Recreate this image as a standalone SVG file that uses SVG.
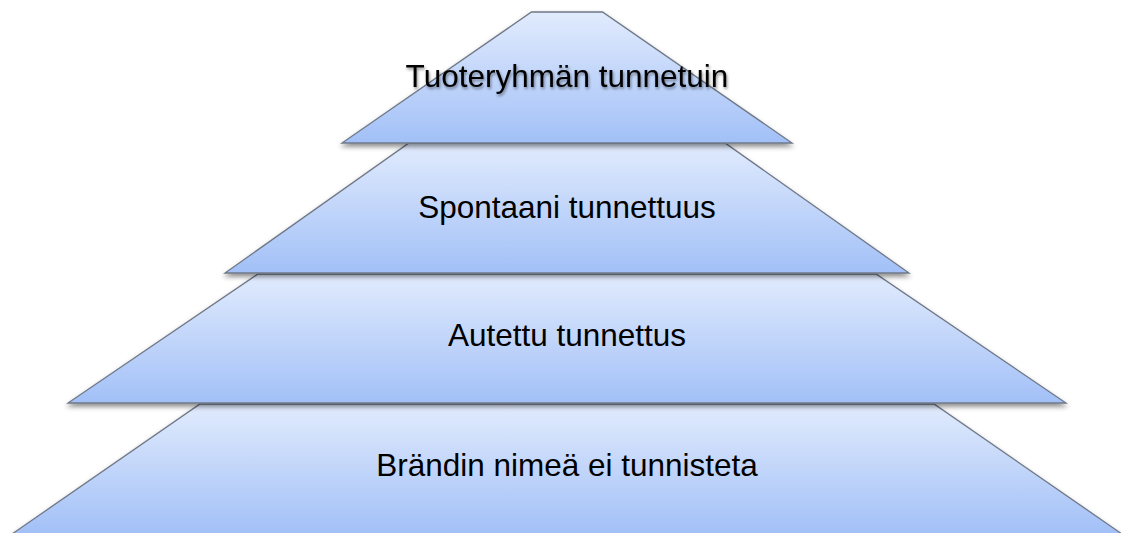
<svg xmlns="http://www.w3.org/2000/svg" width="1121" height="533" viewBox="0 0 1121 533">
<defs>
<linearGradient id="g" x1="0" y1="0" x2="0" y2="1">
<stop offset="0" stop-color="#e1ebfd"/>
<stop offset="1" stop-color="#a2c0f7"/>
</linearGradient>
<filter id="sh" x="-10%" y="-10%" width="120%" height="130%">
<feDropShadow dx="0" dy="3" stdDeviation="2.5" flood-color="#000" flood-opacity="0.45"/>
</filter>
<filter id="tsh" x="-10%" y="-30%" width="120%" height="160%">
<feDropShadow dx="1" dy="2" stdDeviation="1.5" flood-color="#000" flood-opacity="0.45"/>
</filter>
</defs>
<style>
.layer{fill:url(#g);stroke:#6f7888;stroke-width:1.3;stroke-linejoin:miter;filter:url(#sh)}
.lbl{font-family:"Liberation Sans",Arial,sans-serif;font-size:31.5px;fill:#000;text-anchor:middle}
</style>
<rect width="1121" height="533" fill="#fff"/>
<g id="layer4">
<polygon class="layer" points="200,404 934,404 1122,534 12,534"/>
</g>
<g id="layer3">
<polygon class="layer" points="258,274 876,274 1066,403 68,403"/>
</g>
<g id="layer2">
<polygon class="layer" points="409,143 725,143 909,273 225,273"/>
</g>
<g id="layer1">
<polygon class="layer" points="531.5,12 602.5,12 792,143 342,143"/>
</g>
<g id="labels">
<text class="lbl" x="567" y="87" filter="url(#tsh)">Tuoteryhmän tunnetuin</text>
<text class="lbl" x="567" y="218">Spontaani tunnettuus</text>
<text class="lbl" x="567" y="346">Autettu tunnettus</text>
<text class="lbl" x="567" y="476">Brändin nimeä ei tunnisteta</text>
</g>
</svg>
